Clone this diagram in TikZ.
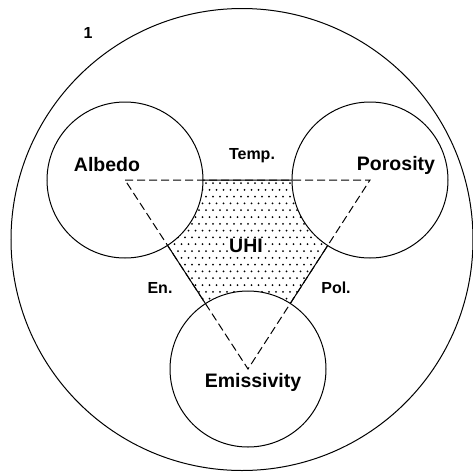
\documentclass[tikz,border=0pt]{standalone}
\usepackage{fontspec}
\setmainfont{Liberation Sans}
\usepackage{tikz}

\begin{document}
\begin{tikzpicture}[x=1pt, y=-1pt, line width=1pt,
    ring/.style={draw, circle, minimum size=156pt, inner sep=0pt},
    bigtxt/.style={inner sep=0pt, font=\fontsize{19.5}{23}\selectfont\bfseries},
    smalltxt/.style={inner sep=0pt, font=\fontsize{16}{19}\selectfont\bfseries},
    edge/.style={dash pattern=on 8pt off 4pt}]

  %% ==== outer circle ====
  \node[draw, circle, minimum size=462pt, inner sep=0pt] (world) at (242,239.5) {};

  %% ==== the three factor circles ====
  \node[ring] (alb) at (125,180) {};
  \node[ring] (por) at (370,180) {};
  \node[ring] (emi) at (248,369) {};

  %% ==== dotted UHI zone (triangle minus the circles) ====
  \begin{scope}
    \clip (alb.center) -- (por.center) -- (emi.center) -- cycle;
    \begin{scope}[even odd rule]
      \clip (0,0) rectangle (473,475)
        (alb.center) circle (78) (por.center) circle (78) (emi.center) circle (78);
      \foreach \j in {0,...,28} {
        \foreach \i in {0,...,36} {
          \pgfmathsetmacro{\xx}{122 + 7*\i + 3.5*mod(\j,2)}
          \fill (\xx, 183 + 6.8*\j) circle (1);
        }
      }
    \end{scope}
  \end{scope}

  %% ==== triangle: dashed inside the circles, solid round the zone ====
  \draw[edge] (alb.center) -- (por.center) -- (emi.center) -- cycle;
  \begin{scope}[even odd rule]
    \clip (0,0) rectangle (473,475)
      (alb.center) circle (78) (por.center) circle (78) (emi.center) circle (78);
    \draw (alb.center) -- (por.center) -- (emi.center) -- cycle;
  \end{scope}

  %% ==== labels ====
  \node[bigtxt] (albl) at (107,165) {Albedo};
  \node[bigtxt] (porl) at (396,165) {Porosity};
  \node[bigtxt] (emil) at (253,382) {Emissivity};
  \node[bigtxt, fill=white, inner sep=1pt] (uhi) at (246,246) {UHI};
  \node[smalltxt] (temp) at (252,156) {Temp.};
  \node[smalltxt] (en) at (160,288) {En.};
  \node[smalltxt] (pol) at (336,288) {Pol.};
  \node[smalltxt] (num) at (88,33) {1};

  \pgfresetboundingbox
  \path[use as bounding box] (0,0) rectangle (473,475);
\end{tikzpicture}
\end{document}
